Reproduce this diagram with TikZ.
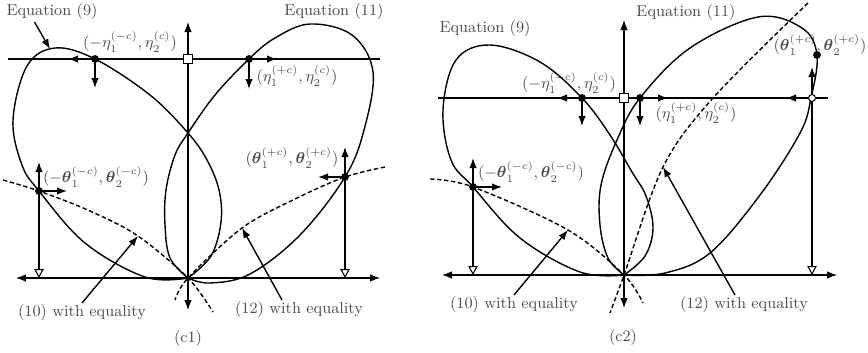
\documentclass[tikz,border=0pt]{standalone}
\usepackage{tikz}
\usetikzlibrary{arrows.meta, calc}
\usepackage{amsmath, amssymb}

\begin{document}
\begin{tikzpicture}[
    x=0.02cm, y=-0.02cm,
    axis/.style = {line width=0.6pt, black},
    curve/.style = {line width=0.8pt, black},
    bound/.style = {line width=0.8pt, black, dash pattern=on 2.5pt off 1.5pt},
    arr/.style = {-{Latex[length=2mm, width=1.5mm]}, line width=0.8pt},
    axarr/.style = {{Latex[length=2mm, width=1.5mm]}-{Latex[length=2mm, width=1.5mm]}},
    drop/.style = {-{Triangle[open, length=1.8mm, width=1.9mm]}, line width=0.6pt},
    lbl/.style = {font=\small, text=black!70, inner sep=1pt},
    pt/.style = {circle, fill=black, inner sep=0pt, minimum size=4.5pt},
    sqr/.style = {rectangle, draw=black, fill=white, line width=0.6pt,
                  inner sep=0pt, minimum size=5.5pt},
    ocirc/.style = {circle, draw=black, fill=white, line width=0.6pt,
                    inner sep=0pt, minimum size=4pt},
]
\useasboundingbox (0,0) rectangle (868,352);

%% ======================== panel (c1) ========================

%% ---- Labels ----
\node[lbl] (eq9a)  at (52,12)   {Equation (9)};
\node[lbl] (eq11a) at (334,12)  {Equation (11)};
\node[lbl] (etaLa) at (130,42)  {$(-\eta_1^{(-c)},\eta_2^{(c)})$};
\node[lbl] (etaRa) at (297,76)  {$(\eta_1^{(+c)},\eta_2^{(c)})$};
\node[lbl] (thLa)  at (96,177)  {$(-\boldsymbol{\theta}_1^{(-c)},\boldsymbol{\theta}_2^{(-c)})$};
\node[lbl] (thRa)  at (292,158) {$(\boldsymbol{\theta}_1^{(+c)},\boldsymbol{\theta}_2^{(+c)})$};
\node[lbl] (w10a)  at (82,313)  {(10) with equality};
\node[lbl] (w12a)  at (299,310) {(12) with equality};
\node[lbl] (capa)  at (188,339) {(c1)};

%% ---- Loops ----
% Equation (9)
\draw[curve] plot[smooth, tension=0.6] coordinates {
    (188,278) (211,256) (221,222) (219,190) (207,160) (188,133) (150,95)
    (95,59) (55,48) (27,66) (13,120) (22,165) (39,191) (85,243) (145,277) (188,278)};
% Equation (11)
\draw[curve] plot[smooth, tension=0.6] coordinates {
    (188,278) (170,258) (165,225) (166,190) (175,155) (188,133) (215,95)
    (249,59) (275,38) (310,24) (352,35) (373,72) (364,130) (345,177)
    (300,235) (250,274) (210,283) (188,278)};

%% ---- Boundaries (10) and (12) with equality ----
\draw[bound] plot[smooth, tension=0.55] coordinates {
    (3,180) (39,191) (90,211) (138,236) (188,278) (213,312)};
\draw[bound] plot[smooth, tension=0.55] coordinates {
    (385,167) (345,177) (295,199) (242,228) (188,278) (175,300)};

%% ---- Axes ----
\coordinate (oa) at (188,278);
\draw[axis, axarr] (16,278) -- (380,278);
\draw[axis, axarr] (188,310) -- (188,22);
\draw[axis] (8,59) -- (380,59);

%% ---- Points and their arrows ----
\coordinate (etaLpa) at (95,59);
\coordinate (etaRpa) at (249,59);
\coordinate (thLpa)  at (39,191);
\coordinate (thRpa)  at (345,177);
\coordinate (thLfa)  at (39,278);
\coordinate (thRfa)  at (345,278);

\draw[arr] (etaLpa) -- (68,59);
\draw[arr] (etaLpa) -- (95,88);
\draw[arr] (etaRpa) -- (277,59);
\draw[arr] (etaRpa) -- (249,89);
\draw[arr] (thLpa) -- (39,162);
\draw[arr] (thLpa) -- (67,191);
\draw[arr] (thRpa) -- (345,147);
\draw[arr] (thRpa) -- (318,177);
\draw[drop] (thLpa) -- (thLfa);
\draw[drop] (thRpa) -- (thRfa);

\node[pt] at (etaLpa) {};
\node[pt] at (etaRpa) {};
\node[pt] at (thLpa) {};
\node[pt] at (thRpa) {};
\node[sqr] (sqa) at (188,59) {};

%% ---- Pointers from labels ----
\coordinate (t9a)  at (50,49);
\coordinate (t10a) at (138,236);
\coordinate (t12a) at (242,228);
\draw[arr] ([xshift=-0.35cm]eq9a.south) -- (t9a);
\draw[arr] (w10a.north) -- (t10a);
\draw[arr] ([xshift=-0.34cm]w12a.north) -- (t12a);

%% ======================== panel (c2) ========================

%% ---- Labels ----
\node[lbl] (eq9b)  at (485,29)  {Equation (9)};
\node[lbl] (eq11b) at (686,13)  {Equation (11)};
\node[lbl] (etaLb) at (569,83)  {$(-\eta_1^{(-c)},\eta_2^{(c)})$};
\node[lbl] (etaRb) at (696,113) {$(\eta_1^{(+c)},\eta_2^{(c)})$};
\node[lbl] (thLb)  at (531,172) {$(-\boldsymbol{\theta}_1^{(-c)},\boldsymbol{\theta}_2^{(-c)})$};
\node[lbl] (thRb)  at (820,45)  {$(\boldsymbol{\theta}_1^{(+c)},\boldsymbol{\theta}_2^{(+c)})$};
\node[lbl] (w10b)  at (514,305) {(10) with equality};
\node[lbl] (w12b)  at (744,305) {(12) with equality};
\node[lbl] (capb)  at (623,338) {(c2)};

%% ---- Loops ----
% Equation (9)
\draw[curve] plot[smooth, tension=0.6] coordinates {
    (624,275) (645,256) (653,228) (646,196) (632,172) (610,135) (582,98)
    (540,62) (490,45) (456,60) (443,110) (451,160) (473,187) (520,238)
    (580,272) (624,275)};
% Equation (11)
\draw[curve] plot[smooth, tension=0.6] coordinates {
    (624,275) (608,258) (600,225) (601,185) (617,140) (640,98) (690,48)
    (758,17) (802,28) (817,55) (811,98) (800,133) (760,195) (710,253)
    (665,273) (624,275)};

%% ---- Boundaries (10) and (12) with equality ----
\draw[bound] plot[smooth, tension=0.55] coordinates {
    (430,179) (473,187) (568,230) (624,275) (643,303)};
\draw[bound] plot[smooth, tension=0.55] coordinates {
    (808,3) (713,98) (663,167) (624,275) (610,313)};

%% ---- Axes ----
\coordinate (ob) at (624,275);
\draw[axis, axarr] (442,275) -- (837,275);
\draw[axis, axarr] (624,308) -- (624,20);
\draw[axis] (438,98) -- (828,98);

%% ---- Points and their arrows ----
\coordinate (etaLpb) at (582,98);
\coordinate (etaRpb) at (640,98);
\coordinate (thLpb)  at (473,187);
\coordinate (thRpb)  at (817,55);
\coordinate (crossb) at (812,98);
\coordinate (thLfb)  at (473,275);
\coordinate (crossfb) at (812,275);

\draw[arr] (etaLpb) -- (557,98);
\draw[arr] (etaLpb) -- (582,126);
\draw[arr] (etaRpb) -- (668,98);
\draw[arr] (etaRpb) -- (640,126);
\draw[arr] (thLpb) -- (473,158);
\draw[arr] (thLpb) -- (502,187);
\draw[arr] (crossb) -- (812,67);
\draw[arr] (crossb) -- (786,98);
\draw[drop] (thLpb) -- (thLfb);
\draw[drop] (crossb) -- (crossfb);

\node[pt] at (etaLpb) {};
\node[pt] at (etaRpb) {};
\node[pt] at (thLpb) {};
\node[pt] at (thRpb) {};
\node[ocirc] at (crossb) {};
\node[sqr] (sqb) at (624,98) {};

%% ---- Pointers from labels ----
\coordinate (t10b) at (568,230);
\coordinate (t12b) at (663,167);
\draw[arr] (w10b.north) -- (t10b);
\draw[arr] ([xshift=-0.18cm]w12b.north) -- (t12b);

\end{tikzpicture}
\end{document}
